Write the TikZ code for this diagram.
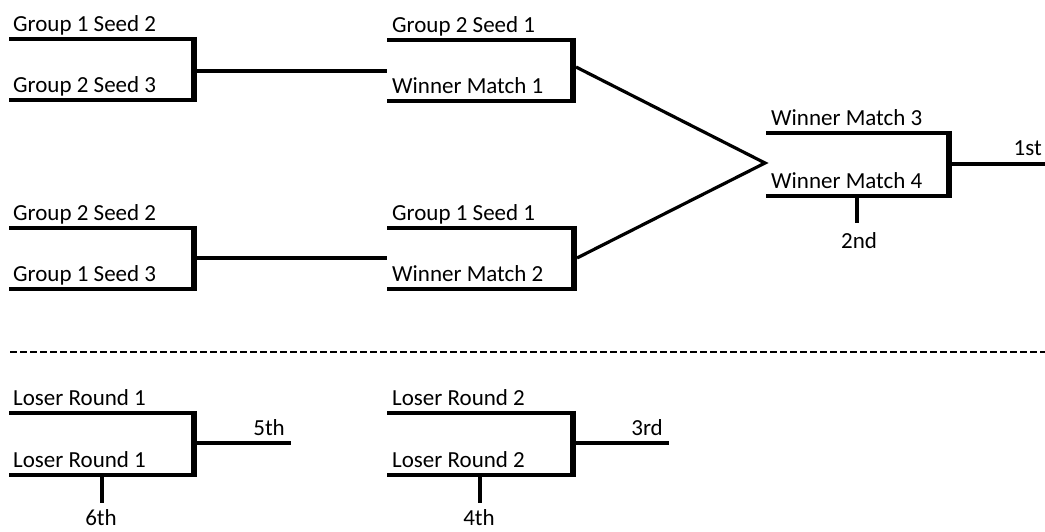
\documentclass[tikz,border=0pt]{standalone}
\usepackage{fontspec}
\setmainfont{Carlito}
\begin{document}
\begin{tikzpicture}[x=1pt,y=-1pt,
  hline/.style={line width=4.5pt},
  vline/.style={line width=6pt},
  conn/.style={line width=3.2pt},
  tick/.style={line width=4pt},
  lbl/.style={anchor=base west, inner sep=0pt, font=\fontsize{23}{27}\selectfont},
  plc/.style={inner sep=0pt, font=\fontsize{23}{27}\selectfont}]
\useasboundingbox (0,0) rectangle (1045,531);
% ---------- Bracket A (left top)
\coordinate (a1) at (9,39);  \coordinate (a2) at (194,39);
\coordinate (a3) at (9,100); \coordinate (a4) at (194,100);
\draw[hline] (a1) -- (a2); \draw[hline] (a3) -- (a4);
\draw[vline] ([yshift=2.25pt]a2) -- ([yshift=-2.25pt]a4);
\node[lbl] (ta1) at (13,31) {Group 1 Seed 2};
\node[lbl] (ta2) at (13,92) {Group 2 Seed 3};
\coordinate (aout) at (197,71);
% ---------- Bracket B (middle top)
\coordinate (b1) at (387,40);  \coordinate (b2) at (573,40);
\coordinate (b3) at (387,101); \coordinate (b4) at (573,101);
\draw[hline] (b1) -- (b2); \draw[hline] (b3) -- (b4);
\draw[vline] ([yshift=2.25pt]b2) -- ([yshift=-2.25pt]b4);
\node[lbl] (tb1) at (392,32) {Group 2 Seed 1};
\node[lbl] (tb2) at (392,93) {Winner Match 1};
\coordinate (bin) at (387,71);
\coordinate (bout) at (576,67);
\draw[conn] (aout) -- (bin);
% ---------- Bracket C (left middle)
\coordinate (c1) at (9,228);  \coordinate (c2) at (194,228);
\coordinate (c3) at (9,289);  \coordinate (c4) at (194,289);
\draw[hline] (c1) -- (c2); \draw[hline] (c3) -- (c4);
\draw[vline] ([yshift=2.25pt]c2) -- ([yshift=-2.25pt]c4);
\node[lbl] (tc1) at (13,220) {Group 2 Seed 2};
\node[lbl] (tc2) at (13,281) {Group 1 Seed 3};
\coordinate (cout) at (197,258);
% ---------- Bracket D (middle middle)
\coordinate (d1) at (387,228);  \coordinate (d2) at (574,228);
\coordinate (d3) at (387,289);  \coordinate (d4) at (574,289);
\draw[hline] (d1) -- (d2); \draw[hline] (d3) -- (d4);
\draw[vline] ([yshift=2.25pt]d2) -- ([yshift=-2.25pt]d4);
\node[lbl] (td1) at (392,220) {Group 1 Seed 1};
\node[lbl] (td2) at (392,281) {Winner Match 2};
\coordinate (din) at (387,258);
\coordinate (dout) at (577,258);
\draw[conn] (cout) -- (din);
% ---------- Final bracket E
\coordinate (evee) at (765,163);
\draw[conn, line join=miter] (bout) -- (evee) -- (dout);
\coordinate (e1) at (766,133);  \coordinate (e2) at (949,133);
\coordinate (e3) at (766,196);  \coordinate (e4) at (949,196);
\draw[hline] (e1) -- (e2); \draw[hline] (e3) -- (e4);
\draw[vline] ([yshift=2.25pt]e2) -- ([yshift=-2.25pt]e4);
\node[lbl] (te1) at (771,125) {Winner Match 3};
\node[lbl] (te2) at (771,188) {Winner Match 4};
\coordinate (eout) at (952,164); \coordinate (eend) at (1045,164);
\draw[tick] (eout) -- (eend);
\node[plc, anchor=base east] (first) at (1042,155) {1st};
\coordinate (etk) at (857,196); \coordinate (etke) at (857,223);
\draw[tick] (etk) -- (etke);
\node[plc, anchor=base] (second) at (859,248) {2nd};
% ---------- Divider
\coordinate (dl) at (10,352); \coordinate (dr) at (1045,352);
\draw[line width=2pt, dash pattern=on 7pt off 3pt] (dl) -- (dr);
% ---------- Loser bracket F
\coordinate (f1) at (9,413);  \coordinate (f2) at (194,413);
\coordinate (f3) at (9,475);  \coordinate (f4) at (194,475);
\draw[hline] (f1) -- (f2); \draw[hline] (f3) -- (f4);
\draw[vline] ([yshift=2.25pt]f2) -- ([yshift=-2.25pt]f4);
\node[lbl] (tf1) at (13,405) {Loser Round 1};
\node[lbl] (tf2) at (13,467) {Loser Round 1};
\coordinate (fout) at (197,443); \coordinate (fend) at (291,443);
\draw[tick] (fout) -- (fend);
\node[plc, anchor=base east] (fifth) at (285,435) {5th};
\coordinate (ftk) at (102,475); \coordinate (ftke) at (102,503);
\draw[tick] (ftk) -- (ftke);
\node[plc, anchor=base] (sixth) at (101,525) {6th};
% ---------- Loser bracket G
\coordinate (g1) at (387,413);  \coordinate (g2) at (573,413);
\coordinate (g3) at (387,475);  \coordinate (g4) at (573,475);
\draw[hline] (g1) -- (g2); \draw[hline] (g3) -- (g4);
\draw[vline] ([yshift=2.25pt]g2) -- ([yshift=-2.25pt]g4);
\node[lbl] (tg1) at (392,405) {Loser Round 2};
\node[lbl] (tg2) at (392,467) {Loser Round 2};
\coordinate (gout) at (576,443); \coordinate (gend) at (669,443);
\draw[tick] (gout) -- (gend);
\node[plc, anchor=base east] (third) at (663,435) {3rd};
\coordinate (gtk) at (480,475); \coordinate (gtke) at (480,503);
\draw[tick] (gtk) -- (gtke);
\node[plc, anchor=base] (fourth) at (479,525) {4th};
\end{tikzpicture}
\end{document}
